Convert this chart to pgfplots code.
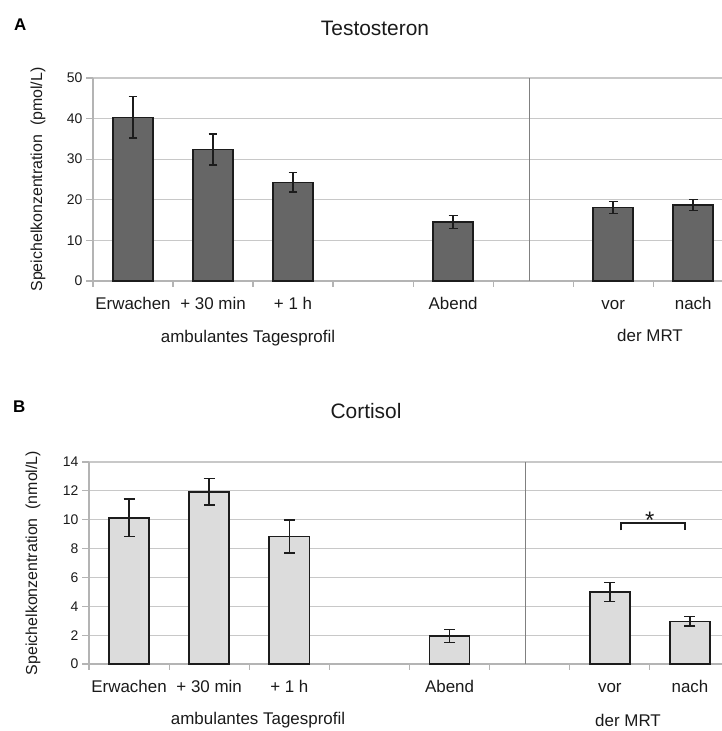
\documentclass[border=0pt]{standalone}
\usepackage{pgfplots}
\pgfplotsset{compat=1.18}
\usepackage{pgfplotstable}
\usepackage{fontspec}
\setmainfont{Liberation Sans}
\definecolor{barA}{HTML}{666666}
\definecolor{barB}{HTML}{DCDCDC}
\definecolor{gridgray}{HTML}{C8C8C8}
\definecolor{axisgray}{HTML}{B4B4B4}
\definecolor{divgray}{HTML}{808080}
\definecolor{txt}{HTML}{1A1A1A}
\definecolor{barline}{HTML}{1C1C1C}

\pgfplotstableread{
x y e
0 40.3 5.1
1 32.4 3.8
2 24.3 2.4
4 14.5 1.6
6 18.1 1.5
7 18.7 1.35
}\testo

\pgfplotstableread{
x y e
0 10.12 1.30
1 11.94 0.93
2 8.84 1.15
4 1.94 0.46
6 4.99 0.65
7 2.95 0.33
}\corti

\pgfplotsset{
  mystyle/.style={
    scale only axis,
    anchor=south west,
    xmin=-0.5, ymin=0,
    axis x line*=bottom,
    axis y line*=left,
    axis line style={draw=axisgray, line width=1.2bp},
    ymajorgrids,
    grid style={draw=gridgray, line width=1.2bp},
    tick align=outside,
    major tick length=7bp,
    minor tick length=6bp,
    xtick={0,1,2,4,6,7},
    xticklabels={Erwachen,+ 30 min,+ 1 h,Abend,vor,nach},
    minor xtick={-0.5,0.5,1.5,2.5,3.5,4.5,5.5,6.5},
    major x tick style={draw=none},
    minor x tick style={draw=axisgray, line width=1.2bp},
    major y tick style={draw=axisgray, line width=1.2bp},
    xticklabel style={font=\fontsize{17}{20}\selectfont, text=txt, anchor=base, yshift=-22bp},
    yticklabel style={font=\fontsize{14}{16}\selectfont, text=txt},
    /pgf/number format/assume math mode=true,
    clip=false,
  }
}

\begin{document}
\begin{tikzpicture}[x=1bp,y=1bp]
\useasboundingbox (0,0) rectangle (722,731);
\clip (0,0) rectangle (722,731);

% Panel A
\node[anchor=base west, font=\fontsize{17}{20}\selectfont\bfseries, text=black, inner sep=0] at (14,700) {A};
\node[anchor=base, font=\fontsize{21}{24}\selectfont, text=txt, inner sep=0] at (375,695) {Testosteron};
\begin{axis}[mystyle, at={(93bp,450bp)}, width=629bp, height=203bp,
  xmax=7.36, ymax=50, ytick={0,10,20,30,40,50},
  ylabel={Speichelkonzentration\ \ (pmol/L)},
  every axis y label/.style={at={(axis description cs:0,0.5)}, xshift=-55bp, rotate=90, anchor=center, font=\fontsize{16}{18}\selectfont, text=txt}]
  \draw[divgray, line width=1.2bp] (axis cs:4.95,0) -- (axis cs:4.95,50);
  \addplot[ybar, bar width=0.5, fill=barA, draw=barline, line width=1.6bp,
    error bars/.cd, y dir=both, y explicit,
    error bar style={line width=1.5bp, draw=barline},
    error mark options={rotate=90, mark size=4.4bp, line width=1.5bp, draw=barline}]
    table[x=x, y=y, y error=e] {\testo};
\end{axis}
\node[anchor=base, font=\fontsize{17}{20}\selectfont, text=txt, inner sep=0] at (248,388) {ambulantes Tagesprofil};
\node[anchor=base, font=\fontsize{17}{20}\selectfont, text=txt, inner sep=0] at (650,389) {der MRT};

% Panel B
\node[anchor=base west, font=\fontsize{17}{20}\selectfont\bfseries, text=black, inner sep=0] at (13,318) {B};
\node[anchor=base, font=\fontsize{21}{24}\selectfont, text=txt, inner sep=0] at (366,312) {Cortisol};
\begin{axis}[mystyle, at={(89bp,67bp)}, width=633bp, height=202bp,
  xmax=7.40, ymax=14, ytick={0,2,4,6,8,10,12,14},
  ylabel={Speichelkonzentration\ \ (nmol/L)},
  every axis y label/.style={at={(axis description cs:0,0.5)}, xshift=-56bp, rotate=90, anchor=center, font=\fontsize{16}{18}\selectfont, text=txt}]
  \draw[divgray, line width=1.2bp] (axis cs:4.95,0) -- (axis cs:4.95,14);
  \addplot[ybar, bar width=0.5, fill=barB, draw=barline, line width=1.6bp,
    error bars/.cd, y dir=both, y explicit,
    error bar style={line width=1.5bp, draw=barline},
    error mark options={rotate=90, mark size=5.5bp, line width=1.5bp, draw=barline}]
    table[x=x, y=y, y error=e] {\corti};
  \addplot[barline, line width=1.4bp] coordinates {(6.14,9.26) (6.14,9.77) (6.94,9.77) (6.94,9.26)};
  \node[anchor=base, font=\fontsize{24}{26}\selectfont, text=txt, inner sep=0] at (axis cs:6.50,9.38) {*};
\end{axis}
\node[anchor=base, font=\fontsize{17}{20}\selectfont, text=txt, inner sep=0] at (258,6) {ambulantes Tagesprofil};
\node[anchor=base, font=\fontsize{17}{20}\selectfont, text=txt, inner sep=0] at (628,4) {der MRT};
\end{tikzpicture}
\end{document}
